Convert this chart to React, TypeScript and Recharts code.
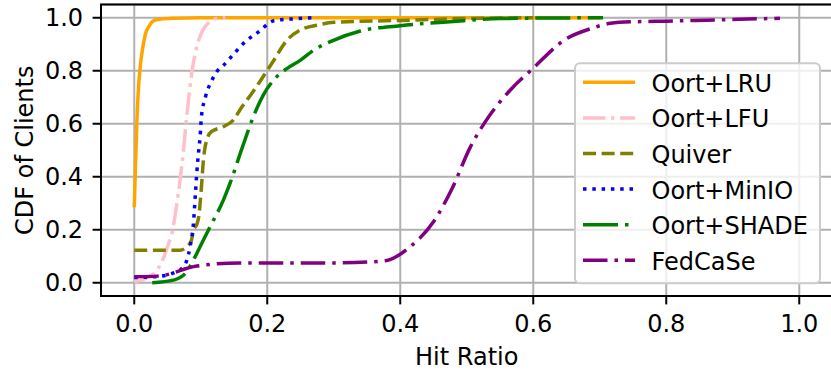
import {
  CartesianGrid,
  Legend,
  Line,
  LineChart,
  ReferenceArea,
  XAxis,
  YAxis,
} from "recharts";

// x = hit ratio, y = CDF of clients
const LRU_X = [0, 0.002, 0.004, 0.006, 0.009, 0.013, 0.017, 0.022, 0.027, 0.033, 0.04, 0.06, 0.1, 0.3, 0.5, 0.7];
const LRU_Y = [0.285, 0.45, 0.61, 0.72, 0.815, 0.89, 0.94, 0.967, 0.985, 0.992, 0.995, 0.998, 1.0, 1.0, 1.0, 1.0];

const LFU_X = [0, 0.02, 0.035, 0.045, 0.052, 0.057, 0.063, 0.069, 0.074, 0.079, 0.087, 0.093, 0.099, 0.106, 0.114, 0.126, 0.137];
const LFU_Y = [0.005, 0.02, 0.05, 0.1, 0.15, 0.19, 0.28, 0.39, 0.5, 0.63, 0.8, 0.88, 0.93, 0.965, 0.985, 0.998, 1.0];

const QUIVER_X = [0, 0.069, 0.079, 0.086, 0.089, 0.094, 0.097, 0.101, 0.104, 0.109, 0.116, 0.134, 0.149, 0.162, 0.177, 0.192, 0.207, 0.23, 0.25, 0.275, 0.3, 0.4, 0.5, 0.6];
const QUIVER_Y = [0.123, 0.123, 0.136, 0.16, 0.2, 0.22, 0.25, 0.36, 0.463, 0.539, 0.57, 0.589, 0.614, 0.664, 0.715, 0.771, 0.828, 0.916, 0.954, 0.972, 0.983, 0.99, 0.997, 1.0];

const MINIO_X = [0, 0.033, 0.059, 0.072, 0.079, 0.084, 0.089, 0.092, 0.094, 0.097, 0.099, 0.101, 0.107, 0.117, 0.124, 0.134, 0.144, 0.164, 0.187, 0.21, 0.235, 0.27];
const MINIO_Y = [0.02, 0.023, 0.037, 0.055, 0.085, 0.136, 0.224, 0.337, 0.413, 0.5, 0.55, 0.626, 0.7, 0.765, 0.796, 0.82, 0.847, 0.903, 0.947, 0.989, 0.995, 1.0];

const SHADE_X = [0.027, 0.059, 0.077, 0.089, 0.104, 0.114, 0.134, 0.144, 0.162, 0.179, 0.194, 0.214, 0.23, 0.25, 0.27, 0.294, 0.34, 0.4, 0.475, 0.55, 0.705];
const SHADE_Y = [0.0, 0.01, 0.036, 0.086, 0.161, 0.211, 0.312, 0.375, 0.507, 0.626, 0.708, 0.777, 0.809, 0.84, 0.878, 0.909, 0.95, 0.97, 0.985, 0.997, 1.0];

const FEDCASE_X = [0, 0.035, 0.094, 0.159, 0.27, 0.31, 0.377, 0.415, 0.45, 0.478, 0.505, 0.528, 0.568, 0.598, 0.648, 0.688, 0.716, 0.753, 0.8, 0.861, 0.971];
const FEDCASE_Y = [0.023, 0.025, 0.063, 0.075, 0.075, 0.075, 0.083, 0.136, 0.23, 0.356, 0.51, 0.608, 0.734, 0.805, 0.918, 0.96, 0.979, 0.985, 0.987, 0.991, 0.998];

const X_TICKS = [0, 0.2, 0.4, 0.6, 0.8, 1.0];
const Y_TICKS = [0, 0.2, 0.4, 0.6, 0.8, 1.0];

const zip = (xs: number[], ys: number[]) => xs.map((x, i) => ({ x, y: ys[i] }));

const SERIES = [
  { name: "Oort+LRU", color: "#FFA500", dash: undefined, data: zip(LRU_X, LRU_Y) },
  { name: "Oort+LFU", color: "#FFC0CB", dash: "22.4 5.6 3.5 5.6", data: zip(LFU_X, LFU_Y) },
  { name: "Quiver", color: "#808000", dash: "13 5.6", data: zip(QUIVER_X, QUIVER_Y) },
  { name: "Oort+MinIO", color: "#0000FF", dash: "3.5 5.8", data: zip(MINIO_X, MINIO_Y) },
  { name: "Oort+SHADE", color: "#008000", dash: "35 7 3.5 7", data: zip(SHADE_X, SHADE_Y) },
  { name: "FedCaSe", color: "#800080", dash: "24.5 7 3.5 7", data: zip(FEDCASE_X, FEDCASE_Y) },
];

const FONT = "'DejaVu Sans', sans-serif";
const tickStyle = { fill: "#000", fontSize: 24, fontFamily: FONT };

function YTitle(props: any) {
  const vb = props.viewBox;
  const x = vb.x + 33;
  const y = vb.y + vb.height / 2;
  return (
    <text x={x} y={y} transform={`rotate(-90, ${x}, ${y})`} textAnchor="middle" fontSize={24} fontFamily={FONT} fill="#000">
      CDF of Clients
    </text>
  );
}

function XTitle(props: any) {
  const vb = props.viewBox;
  return (
    <text x={vb.x + vb.width / 2} y={vb.y + 69} textAnchor="middle" fontSize={24} fontFamily={FONT} fill="#000">
      Hit Ratio
    </text>
  );
}

function LegendBox() {
  return (
    <svg width={248} height={224} style={{ display: "block" }}>
      <rect x={1} y={1.3} width={245} height={220} rx={5} fill="#fff" fillOpacity={0.8} stroke="#cccccc" strokeWidth={2} />
      {SERIES.map((s, i) => {
        const cy = 20.3 + i * 35.6;
        return (
          <g key={s.name}>
            <line x1={9} x2={61} y1={cy} y2={cy} stroke={s.color} strokeWidth={3.5} strokeDasharray={s.dash} strokeLinecap="butt" />
            <text x={77.5} y={cy + 9.4} fontSize={24} fontFamily={FONT} fill="#000">
              {s.name}
            </text>
          </g>
        );
      })}
    </svg>
  );
}

export default function App() {
  return (
    <div style={{ position: "absolute", left: 0, top: 0, width: 831, height: 371, overflow: "hidden", background: "#fff" }}>
      <LineChart width={840} height={371} margin={{ top: 4.5, right: 7.5, bottom: 0, left: 0 }}>
        <CartesianGrid stroke="#b0b0b0" strokeWidth={2} />
        <XAxis
          dataKey="x"
          type="number"
          domain={[-0.05, 1.05]}
          ticks={X_TICKS}
          interval={0}
          allowDataOverflow
          tickFormatter={(v: number) => v.toFixed(1)}
          tick={tickStyle}
          tickSize={8.4}
          tickMargin={11}
          tickLine={{ stroke: "#000", strokeWidth: 2 }}
          axisLine={false}
          height={75}
          label={<XTitle />}
        />
        <YAxis
          type="number"
          domain={[-0.05, 1.05]}
          ticks={Y_TICKS}
          interval={0}
          allowDataOverflow
          tickFormatter={(v: number) => v.toFixed(1)}
          tick={tickStyle}
          tickSize={8.4}
          tickMargin={9.5}
          tickLine={{ stroke: "#000", strokeWidth: 2 }}
          axisLine={false}
          width={101}
          label={<YTitle />}
        />
        <ReferenceArea x1={-0.05} x2={1.05} y1={-0.05} y2={1.05} fill="none" stroke="#000" strokeWidth={2} />
        {SERIES.map((s) => (
          <Line
            key={s.name}
            name={s.name}
            data={s.data}
            dataKey="y"
            type="monotone"
            stroke={s.color}
            strokeWidth={3.5}
            strokeDasharray={s.dash}
            strokeLinecap="butt"
            strokeLinejoin="round"
            dot={false}
            activeDot={false}
            isAnimationActive={false}
          />
        ))}
        <Legend
          layout="vertical"
          align="center"
          verticalAlign="middle"
          wrapperStyle={{ left: 574, top: 62, width: 248, height: 224 }}
          content={() => <LegendBox />}
        />
      </LineChart>
    </div>
  );
}
